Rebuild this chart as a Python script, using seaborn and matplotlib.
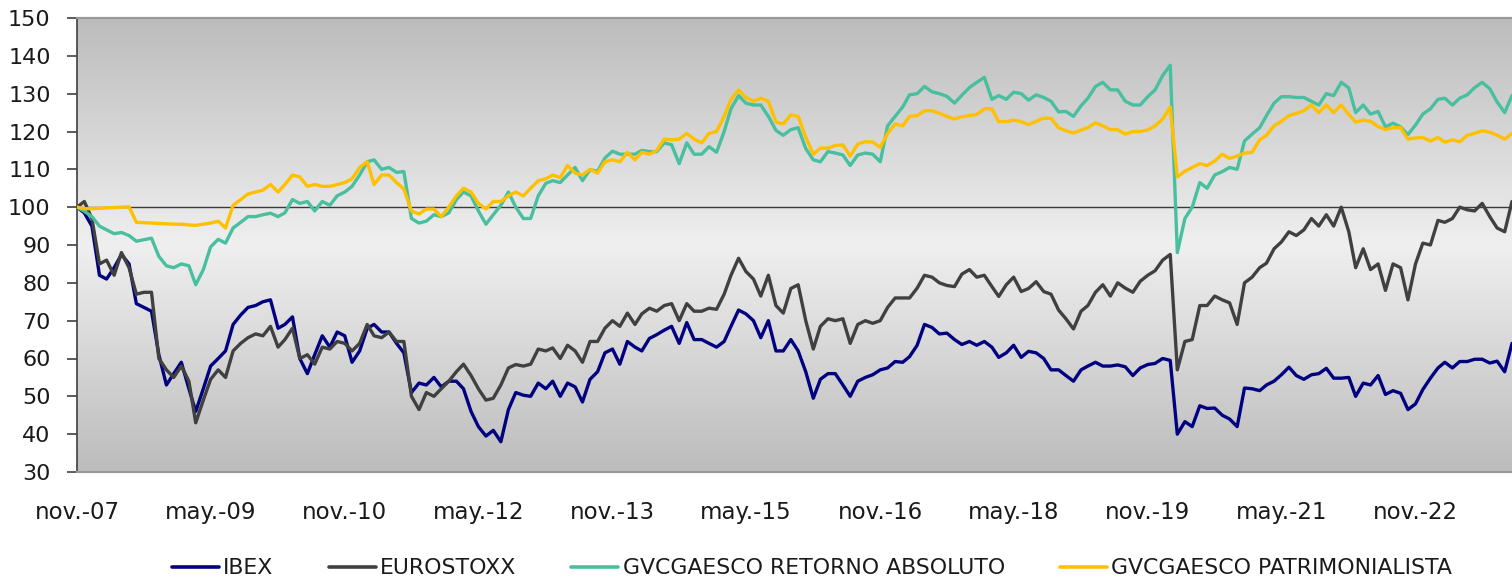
import numpy as np
import pandas as pd
import matplotlib
matplotlib.use("Agg")
import matplotlib.pyplot as plt
from matplotlib.colors import LinearSegmentedColormap
import seaborn as sns

# ---------------- data (monthly readings, base 100 = nov-2007) ----------------
start_month = "2007-11-01"

ibex = [
    100, 98.5, 95, 82, 81, 84, 87.5, 85, 74.5, 73.5, 72.5, 61, 53, 56, 59, 52, 46, 52, 58, 60, 62, 69, 71.5, 73.5, 74, 75, 75.5, 68,
    69, 71, 60, 56, 61, 66, 63, 67, 66, 59, 62, 68, 69, 67, 67, 64, 61.5, 51, 53.5, 53, 55, 52.5, 54, 54, 52, 46, 42, 39.5,
    41, 38, 46.5, 51, 50.3, 50, 53.5, 52, 54, 50, 53.5, 52.5, 48.5, 54.5, 56.5, 61.5, 62.5, 58.5, 64.5, 63, 62, 65.3, 66.3, 67.5, 68.5, 64, 69.5, 65,
    65, 64, 63, 64.5, 68.5, 72.8, 71.8, 70, 65.5, 70, 62, 62, 65, 62, 56.5, 49.5, 54.5, 56, 56, 53, 50, 54, 55, 55.7, 57, 57.5, 59.2,
    59, 60.5, 63.5, 69, 68.2, 66.5, 66.7, 65, 63.7, 64.5, 63.5, 64.5, 63, 60.3, 61.5, 63.5, 60.3, 61.9, 61.5, 60, 57, 57, 55.5, 54, 57, 58, 59, 58,
    58, 58.3, 57.8, 55.5, 57.5, 58.4, 58.7, 60, 59.5, 40, 43.3, 42, 47.5, 46.8, 46.9, 45, 44, 42, 52.2, 52, 51.5, 53, 54, 55.7, 57.7, 55.5, 54.5, 55.7,
    56, 57.4, 54.8, 54.8, 55, 50, 53.5, 53, 55.5, 50.5, 51.5, 50.8, 46.5, 48, 51.8, 54.8, 57.5, 59, 57.5, 59.2, 59.2, 59.8, 59.8, 58.8, 59.3, 56.5, 64,
]

eurostoxx = [
    100, 101.5, 97, 85, 86, 82, 88, 84, 77, 77.5, 77.5, 60, 57, 55, 58, 54, 43, 49, 54.5, 57, 55, 62, 64, 65.5, 66.5, 66, 68.5, 63,
    65, 68, 60, 61, 58.5, 63, 62.5, 64.5, 64, 62, 64, 69, 66, 65.5, 67, 64.5, 64.5, 50, 46.5, 51, 50, 52, 54, 56.5, 58.5, 55.5, 52, 49,
    49.5, 53, 57.5, 58.4, 58, 58.5, 62.5, 62, 62.8, 60, 63.5, 62, 59, 64.5, 64.5, 68, 70, 68.5, 72, 69, 71.8, 73.3, 72.5, 74, 74.5, 70, 74.5, 72.5,
    72.5, 73.3, 73, 77, 82, 86.5, 83, 81, 76.5, 82, 74, 72, 78.5, 79.5, 70, 62.5, 68.5, 70.5, 70, 70.5, 64, 69, 70, 69.3, 70, 73.5, 76,
    76, 76, 78.6, 82, 81.5, 80, 79.3, 79, 82.3, 83.5, 81.5, 82, 79, 76.4, 79.5, 81.5, 77.7, 78.5, 80.3, 77.7, 77, 72.8, 70.5, 67.8, 72.5, 74, 77.5, 79.5,
    76.5, 80, 78.6, 77.5, 80.4, 82, 83.2, 86, 87.5, 57, 64.5, 65, 74, 74, 76.5, 75.5, 74.7, 69, 80, 81.5, 84, 85.2, 89, 90.8, 93.5, 92.5, 94, 97,
    95, 98, 95, 100, 93.5, 84, 89, 83.5, 85, 78, 85, 84, 75.5, 85, 90.5, 90, 96.5, 96, 97, 100, 99.3, 99, 101, 97.5, 94.5, 93.5, 101.5,
]

retorno_absoluto = [
    100, 98.9, 97.5, 95, 94, 93, 93.3, 92.5, 91, 91.4, 91.8, 87, 84.5, 84, 85, 84.5, 79.5, 83.5, 89.5, 91.5, 90.5, 94.5, 96, 97.5, 97.5, 98, 98.4, 97.5,
    98.5, 102, 101, 101.5, 99, 101.5, 100.5, 103, 104, 105.5, 108.5, 112, 112.5, 110, 110.5, 109.2, 109.4, 97, 95.8, 96.3, 98, 97.5, 98.5, 102, 104, 103, 99, 95.5,
    98, 100.5, 104, 100, 97, 97, 103, 106.3, 107, 106.5, 108.5, 110.5, 107, 109.9, 109.5, 113, 114.8, 114, 114, 114, 115, 114.7, 114.7, 117, 116.5, 111.5, 117, 114,
    114, 116, 114.5, 120, 126, 129.5, 127.5, 127, 127, 124, 120.3, 119, 120.5, 121, 115.5, 112.5, 112, 114.7, 114.3, 113.8, 111, 113.8, 114.3, 114, 112, 121.5, 124,
    126.5, 129.7, 130, 131.9, 130.5, 130, 129.3, 127.5, 129.6, 131.6, 133, 134.3, 128.5, 129.5, 128.5, 130.4, 130, 128.3, 129.7, 129, 128, 125.2, 125.3, 124, 126.8, 128.8, 131.9, 133,
    131, 131, 128, 127, 127, 129.2, 131, 134.8, 137.5, 88, 97, 100, 106.5, 105, 108.5, 109.4, 110.5, 110, 117.5, 119.3, 121, 124.2, 127.5, 129.2, 129.2, 129, 129, 128,
    127, 130, 129.5, 133, 131.5, 125, 127, 124.6, 125.3, 121.2, 122.2, 121.2, 119.2, 121.7, 124.6, 126, 128.5, 128.8, 127, 128.8, 129.7, 131.6, 133, 131.3, 127.8, 125, 129.5,
]

patrimonialista = [
    100, 99.6, 99.6, 99.7, 99.8, 99.9, 100, 100.1, 96, 95.9, 95.8, 95.7, 95.6, 95.5, 95.5, 95.3, 95.2, 95.5, 95.8, 96.3, 94.5, 100.5, 102, 103.5, 104, 104.5, 106, 104,
    106, 108.5, 108, 105.5, 106, 105.5, 105.5, 106, 106.5, 107.5, 110.5, 112, 106, 108.5, 108.5, 106.5, 104.8, 99, 98.2, 99.5, 99.5, 97.5, 100, 103, 105, 104, 101, 99.5,
    101.5, 101.5, 103, 104, 103, 105, 107, 107.5, 108.5, 107.8, 111, 109, 108.5, 110, 109, 112, 112.5, 112, 114.5, 112.5, 114.5, 114, 115, 118, 117.8, 118, 119.5, 118,
    117, 119.5, 120, 124, 128.5, 131, 129, 128, 128.8, 128, 122.5, 122, 124.4, 124, 118.5, 114, 115.6, 115.6, 116.3, 116.5, 113.5, 116.7, 117.3, 117.2, 115.8, 119.5, 122,
    121.5, 124, 124.2, 125.5, 125.5, 124.8, 124, 123.3, 123.9, 124.2, 124.5, 126, 126, 122.6, 122.6, 123, 122.6, 121.8, 122.7, 123.5, 123.5, 121, 120.2, 119.6, 120.4, 121, 122.3, 121.5,
    120.5, 120.5, 119.3, 120, 120, 120.4, 121.5, 123.3, 126.5, 108, 109.5, 110.5, 111.5, 111, 112.2, 114, 112.9, 113.5, 114.3, 114.5, 117.8, 119, 121.5, 122.7, 124.2, 124.8, 125.5, 127,
    125, 127, 125, 127, 124.5, 122.5, 123, 122.7, 121.3, 120.5, 121, 121, 118, 118.3, 118.4, 117.5, 118.4, 117.2, 117.8, 117.3, 119, 119.5, 120.2, 119.8, 119, 118, 119.5,
]

series_names = ["IBEX", "EUROSTOXX", "GVCGAESCO RETORNO ABSOLUTO", "GVCGAESCO PATRIMONIALISTA"]
series_colors = ["#000080", "#404040", "#48BF9F", "#FFC000"]

tick_dates = ["2007-11-01", "2009-05-01", "2010-11-01", "2012-05-01", "2013-11-01", "2015-05-01",
              "2016-11-01", "2018-05-01", "2019-11-01", "2021-05-01", "2022-11-01"]
tick_labels = ["nov.-07", "may.-09", "nov.-10", "may.-12", "nov.-13", "may.-15",
               "nov.-16", "may.-18", "nov.-19", "may.-21", "nov.-22"]
y_ticks = [30, 40, 50, 60, 70, 80, 90, 100, 110, 120, 130, 140, 150]

all_series = [ibex, eurostoxx, retorno_absoluto, patrimonialista]
lengths = {len(s) for s in all_series}
if len(lengths) != 1:
    raise ValueError(f"series lengths differ: {[len(s) for s in all_series]}")

n = len(ibex)
dates = pd.date_range(start_month, periods=n, freq="MS")
df = pd.DataFrame({
    "fecha": np.tile(dates.values, 4),
    "valor": np.concatenate([np.asarray(s, float) for s in all_series]),
    "serie": np.repeat(series_names, n),
})

# ---------------- style ----------------
sns.set_theme(style="white")
plt.rcParams["font.family"] = ["DejaVu Sans"]

W, H = 1512, 584
fig = plt.figure(figsize=(W / 100, H / 100), dpi=100)
fig.patch.set_facecolor("white")
left, top, bottom = 77, 18, 472
ax = fig.add_axes([left / W, 1 - bottom / H, 1 - left / W, (bottom - top) / H])

# background gradient: dark at top/bottom, light in the middle
grad = np.abs(np.linspace(-1, 1, 512))[:, None]
cmap = LinearSegmentedColormap.from_list("bg", ["#efefef", "#bcbcbc"])
ax.imshow(grad, cmap=cmap, extent=[0, 1, 0, 1], transform=ax.transAxes,
          aspect="auto", zorder=0, interpolation="bilinear")

ax.axhline(100, color="#3a3a3a", lw=1.0, zorder=2)

sns.lineplot(data=df, x="fecha", y="valor", hue="serie", hue_order=series_names,
             palette=series_colors, linewidth=2.4, ax=ax, zorder=3, legend=True)

handles, labels = ax.get_legend_handles_labels()
if ax.get_legend() is not None:
    ax.get_legend().remove()
for h in handles:
    h.set_linewidth(2.6)
fig.legend(handles, labels, ncol=4, loc="center", bbox_to_anchor=(0.537, 0.027),
           frameon=False, fontsize=15.8, handlelength=2.14, handletextpad=0.2,
           columnspacing=2.5, labelcolor="#1a1a1a")

ax.set_xlim(dates[0], dates[-1])
ax.set_ylim(30, 150)
ax.set_xticks(pd.to_datetime(tick_dates))
ax.set_xticklabels(tick_labels)
ax.set_yticks(y_ticks)
ax.set_xlabel("")
ax.set_ylabel("")

ax.tick_params(axis="x", bottom=False, length=0, pad=21, labelsize=16.5, labelcolor="#1a1a1a")
ax.tick_params(axis="y", left=True, length=7, width=1.2, direction="out", pad=12,
               labelsize=16, color="#404040", labelcolor="#1a1a1a")

for side in ["top", "bottom"]:
    ax.spines[side].set_color("#999999")
    ax.spines[side].set_linewidth(1.6)
ax.spines["left"].set_color("#404040")
ax.spines["left"].set_linewidth(1.2)
ax.spines["right"].set_visible(False)
ax.grid(False)

fig.savefig("out.png", dpi=100, facecolor="white")
